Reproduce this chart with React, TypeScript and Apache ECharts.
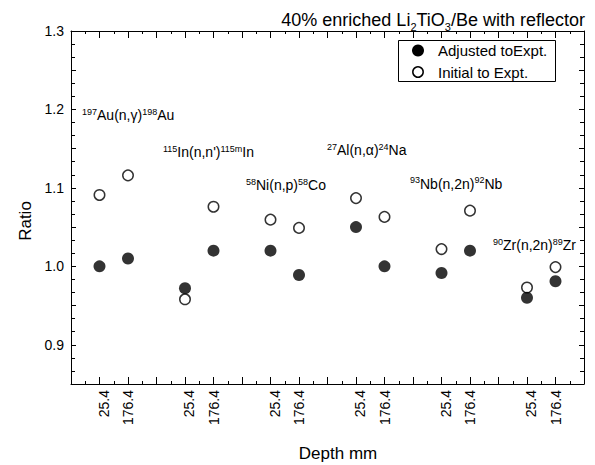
import React, { useEffect, useRef } from "react";
import * as echarts from "echarts";

// ---- data ----
const xPositions = [2, 4, 8, 10, 14, 16, 20, 22, 26, 28, 32, 34];
const depthLabels = ["25.4", "176.4", "25.4", "176.4", "25.4", "176.4", "25.4", "176.4", "25.4", "176.4", "25.4", "176.4"];
const adjusted = [1.0, 1.01, 0.972, 1.02, 1.02, 0.989, 1.05, 1.0, 0.9915, 1.02, 0.96, 0.981];
const initial = [1.091, 1.116, 0.958, 1.076, 1.0595, 1.049, 1.087, 1.063, 1.022, 1.071, 0.973, 0.999];
const yLabelValues = [0.9, 1.0, 1.1, 1.2, 1.3];
const seriesNames = ["Adjusted toExpt.", "Initial to Expt."];

const reactionPre = ["197", "115", "58", "27", "93", "90"];
const reactionTarget = ["Au(n,γ)", "In(n,n')", "Ni(n,p)", "Al(n,α)", "Nb(n,2n)", "Zr(n,2n)"];
const reactionProdMass = ["198", "115m", "58", "24", "92", "89"];
const reactionProd = ["Au", "In", "Co", "Na", "Nb", "Zr"];
const reactionPos = [
  [82, 115],
  [163, 152],
  [246, 185],
  [327, 150],
  [410, 183.5],
  [493, 245],
];

const FONT = "Liberation Sans, Arial, sans-serif";

export default function App() {
  const ref = useRef<HTMLDivElement>(null);

  useEffect(() => {
    if (!ref.current) return;
    const chart = echarts.init(ref.current, null, { renderer: "svg" });

    const axisCommon = {
      type: "value" as const,
      axisLine: { show: true, onZero: false, lineStyle: { color: "#000", width: 1 } },
      splitLine: { show: false },
    };

    const annotations = reactionPre.map((pre, i) => ({
      type: "text",
      x: reactionPos[i][0],
      y: reactionPos[i][1],
      style: {
        text: `{s|${pre}}{m|${reactionTarget[i]}}{s|${reactionProdMass[i]}}{m|${reactionProd[i]}}`,
        align: "left",
        verticalAlign: "middle",
        fill: "#000",
        rich: {
          m: { fontSize: 14, lineHeight: 16, fontFamily: FONT, fill: "#000" },
          s: { fontSize: 9, lineHeight: 9, verticalAlign: "top", fontFamily: FONT, fill: "#000" },
        },
      },
    }));

    const legendGraphic = {
      type: "group",
      x: 398,
      y: 40,
      children: [
        {
          type: "rect",
          shape: { x: 0.5, y: 0.5, width: 157, height: 41 },
          style: { fill: "#fff", stroke: "#000", lineWidth: 1 },
        },
        {
          type: "circle",
          shape: { cx: 20, cy: 10.5, r: 6 },
          style: { fill: "#000" },
        },
        {
          type: "circle",
          shape: { cx: 20, cy: 32, r: 5.2 },
          style: { fill: "#fff", stroke: "#000", lineWidth: 1.5 },
        },
        {
          type: "text",
          x: 40,
          y: 10.5,
          style: { text: seriesNames[0], fontSize: 15, fontFamily: FONT, fill: "#000", align: "left", verticalAlign: "middle" },
        },
        {
          type: "text",
          x: 40,
          y: 32,
          style: { text: seriesNames[1], fontSize: 15, fontFamily: FONT, fill: "#000", align: "left", verticalAlign: "middle" },
        },
      ],
    };

    chart.setOption({
      animation: false,
      backgroundColor: "#fff",
      grid: { left: 71, right: 11, top: 31, bottom: 81, containLabel: false },
      xAxis: [
        {
          ...axisCommon,
          position: "bottom",
          min: 0,
          max: 36,
          interval: 2,
          axisTick: { show: true, inside: true, length: 7, lineStyle: { color: "#000" } },
          minorTick: { show: true, splitNumber: 2, length: 3, lineStyle: { color: "#000" } },
          axisLabel: {
            show: true,
            rotate: 90,
            margin: 6,
            color: "#000",
            fontSize: 14,
            fontFamily: FONT,
            formatter: (v: number) => {
              const i = xPositions.indexOf(v);
              if (i < 0) return "";
              return depthLabels[i] === "25.4" ? `{a|${depthLabels[i]}}` : `{b|${depthLabels[i]}}`;
            },
            rich: {
              a: { fontSize: 14, fontFamily: FONT, color: "#000", padding: [8, 0, 0, 0] },
              b: { fontSize: 14, fontFamily: FONT, color: "#000" },
            },
          },
        },
        {
          ...axisCommon,
          position: "top",
          min: 0,
          max: 36,
          interval: 2,
          axisTick: { show: true, inside: true, length: 7, lineStyle: { color: "#000" } },
          minorTick: { show: true, splitNumber: 2, length: 3, lineStyle: { color: "#000" } },
          axisLabel: { show: false },
        },
      ],
      yAxis: [
        {
          ...axisCommon,
          position: "left",
          min: 0.85,
          max: 1.3,
          interval: 0.05,
          axisTick: { show: true, inside: true, length: 5, lineStyle: { color: "#000" } },
          minorTick: { show: true, splitNumber: 3, length: 4, lineStyle: { color: "#000" } },
          axisLabel: {
            show: true,
            margin: 7,
            color: "#000",
            fontSize: 14,
            fontFamily: FONT,
            formatter: (v: number) => {
              const hit = yLabelValues.find((t) => Math.abs(t - v) < 1e-6);
              return hit !== undefined ? hit.toFixed(1) : "";
            },
          },
        },
        {
          ...axisCommon,
          position: "right",
          min: 0.85,
          max: 1.3,
          interval: 0.05,
          axisTick: { show: true, inside: true, length: 5, lineStyle: { color: "#000" } },
          minorTick: { show: true, splitNumber: 3, length: 4, lineStyle: { color: "#000" } },
          axisLabel: { show: false },
        },
      ],
      series: [
        {
          name: seriesNames[1],
          type: "scatter",
          symbol: "circle",
          symbolSize: 10.5,
          itemStyle: { color: "#fff", borderColor: "#000", borderWidth: 1.5 },
          data: xPositions.map((x, i) => [x, initial[i]]),
          z: 2,
        },
        {
          name: seriesNames[0],
          type: "scatter",
          symbol: "circle",
          symbolSize: 12,
          itemStyle: { color: "#000", borderColor: "#000", borderWidth: 0 },
          data: xPositions.map((x, i) => [x, adjusted[i]]),
          z: 3,
        },
      ],
      graphic: [
        {
          type: "text",
          x: 585,
          y: 8,
          style: {
            text: "{m|40% enriched Li}{s|2}{m|TiO}{s|3}{m|/Be with reflector}",
            align: "right",
            verticalAlign: "top",
            fill: "#000",
            rich: {
              m: { fontSize: 18, lineHeight: 24, fontFamily: FONT, fill: "#000" },
              s: { fontSize: 11, lineHeight: 11, verticalAlign: "bottom", fontFamily: FONT, fill: "#000" },
            },
          },
        },
        {
          type: "text",
          x: 338,
          y: 453,
          style: {
            text: "Depth mm",
            align: "center",
            verticalAlign: "middle",
            fontSize: 17,
            fontFamily: FONT,
            fill: "#000",
          },
        },
        {
          type: "text",
          x: 25,
          y: 221,
          rotation: Math.PI / 2,
          style: {
            text: "Ratio",
            align: "center",
            verticalAlign: "middle",
            fontSize: 17,
            fontFamily: FONT,
            fill: "#000",
          },
        },
        legendGraphic,
        ...annotations,
      ],
    });

    return () => chart.dispose();
  }, []);

  return (
    <div
      ref={ref}
      style={{ position: "fixed", left: 0, top: 0, width: 595, height: 465, background: "#fff" }}
    />
  );
}
